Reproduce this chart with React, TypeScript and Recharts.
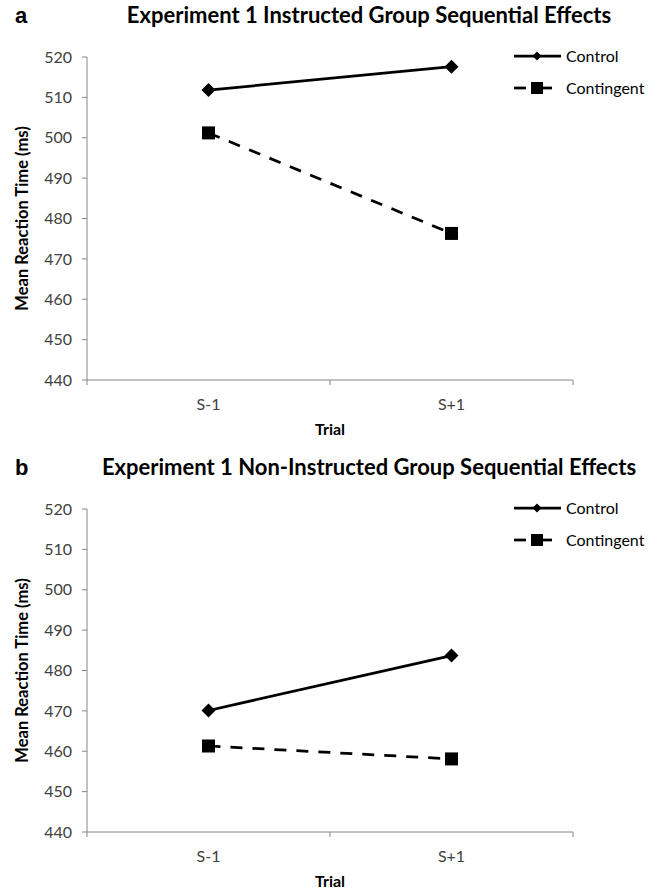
import React from "react";
import { LineChart, Line, XAxis, YAxis, Legend } from "recharts";

const categories = ["S-1", "S+1"];
const seriesNames = ["Control", "Contingent"];
const instructedControl = [511.8, 517.6];
const instructedContingent = [501.2, 476.3];
const nonInstructedControl = [470.1, 483.7];
const nonInstructedContingent = [461.3, 458.1];
const yTicks = [440, 450, 460, 470, 480, 490, 500, 510, 520];
const panelTitles = [
  "Experiment 1 Instructed Group Sequential Effects",
  "Experiment 1 Non-Instructed Group Sequential Effects",
];
const panelLetters = ["a", "b"];
const yAxisTitle = "Mean Reaction Time (ms)";
const xAxisTitle = "Trial";

const AXIS = "#868686";
const TICK_TEXT = "#404040";
const FONT = "Lato, 'Open Sans', sans-serif";

const xTicks: number[] = [];
categories.forEach((_, i) => {
  xTicks.push(i);
  xTicks.push(i + 0.5);
});
xTicks.push(categories.length);

function XTick(props: any) {
  const { x, y, payload } = props;
  const v = payload.value as number;
  if (Number.isInteger(v)) {
    return <line x1={x} x2={x} y1={y} y2={y + 5} stroke={AXIS} strokeWidth={1} />;
  }
  return (
    <text
      x={x}
      y={y + 23}
      textAnchor="middle"
      dominantBaseline="central"
      fontFamily={FONT}
      fontSize={16}
      fill={TICK_TEXT}
    >
      {categories[Math.floor(v)]}
    </text>
  );
}

function renderDiamond(p: any) {
  const { cx, cy, index } = p;
  if (cx == null || cy == null) return <g key={index} />;
  const r = 7;
  return (
    <polygon
      key={index}
      points={`${cx},${cy - r} ${cx + r},${cy} ${cx},${cy + r} ${cx - r},${cy}`}
      fill="#000"
    />
  );
}

function renderSquare(p: any) {
  const { cx, cy, index } = p;
  if (cx == null || cy == null) return <g key={index} />;
  const s = 13;
  return <rect key={index} x={cx - s / 2} y={cy - s / 2} width={s} height={s} fill="#000" />;
}

function LegendContent() {
  return (
    <div style={{ fontFamily: FONT, fontSize: 16, color: "#000" }}>
      {seriesNames.map((n, i) => (
        <div key={n} style={{ display: "flex", alignItems: "center", height: 32 }}>
          <svg width={48} height={16} style={{ display: "block" }}>
            {i === 0 ? (
              <g>
                <line x1={0} x2={47} y1={8} y2={8} stroke="#000" strokeWidth={2.75} />
                <polygon points="23,3.5 27.5,8 23,12.5 18.5,8" fill="#000" />
              </g>
            ) : (
              <g>
                <line x1={0} x2={12} y1={8} y2={8} stroke="#000" strokeWidth={2.75} />
                <rect x={17} y={2} width={12} height={12} fill="#000" />
                <line x1={29} x2={38} y1={8} y2={8} stroke="#000" strokeWidth={2.75} />
              </g>
            )}
          </svg>
          <span style={{ marginLeft: 4, lineHeight: "16px" }}>{n}</span>
        </div>
      ))}
    </div>
  );
}

function YLabel(props: any) {
  const vb = props.viewBox || { x: 0, y: 0, width: 0, height: 0 };
  const cx = vb.x + 22;
  const cy = vb.y + vb.height / 2;
  return (
    <text
      x={cx}
      y={cy}
      transform={`rotate(-90 ${cx} ${cy})`}
      textAnchor="middle"
      dominantBaseline="central"
      fontFamily={FONT}
      fontSize={16.5}
      fontWeight={700}
      fill="#000"
    >
      {yAxisTitle}
    </text>
  );
}

function XLabel(props: any) {
  const vb = props.viewBox || { x: 0, y: 0, width: 0, height: 0 };
  return (
    <text
      x={vb.x + vb.width / 2}
      y={vb.y + 48}
      textAnchor="middle"
      dominantBaseline="central"
      fontFamily={FONT}
      fontSize={16}
      fontWeight={700}
      fill="#000"
    >
      {xAxisTitle}
    </text>
  );
}

type PanelProps = {
  top: number;
  title: string;
  letter: string;
  control: number[];
  contingent: number[];
};

function Panel({ top, title, letter, control, contingent }: PanelProps) {
  const data = categories.map((c, i) => ({
    pos: i + 0.5,
    trial: c,
    control: control[i],
    contingent: contingent[i],
  }));
  return (
    <div style={{ position: "absolute", left: 0, top, width: 660, height: 438 }}>
      <LineChart
        width={660}
        height={438}
        data={data}
        margin={{ top: 57, right: 87, bottom: 8, left: 0 }}
      >
        <XAxis
          dataKey="pos"
          type="number"
          domain={[0, categories.length]}
          ticks={xTicks}
          interval={0}
          tick={<XTick />}
          tickLine={false}
          tickSize={0}
          tickMargin={0}
          axisLine={{ stroke: AXIS, strokeWidth: 1 }}
          height={50}
          label={{ content: <XLabel /> }}
        />
        <YAxis
          type="number"
          domain={[440, 520]}
          ticks={yTicks}
          interval={0}
          width={87}
          tickSize={5}
          tickMargin={10}
          tick={{ fontFamily: FONT, fontSize: 16, fill: TICK_TEXT }}
          tickLine={{ stroke: AXIS, strokeWidth: 1 }}
          axisLine={{ stroke: AXIS, strokeWidth: 1 }}
          label={{ content: <YLabel /> }}
        />
        <Legend
          layout="vertical"
          align="center"
          verticalAlign="middle"
          content={<LegendContent />}
          wrapperStyle={{ top: 40, left: 514, width: 146, height: 64 }}
        />
        <Line
          dataKey="control"
          name={seriesNames[0]}
          stroke="#000"
          strokeWidth={2.75}
          dot={renderDiamond}
          activeDot={false}
          isAnimationActive={false}
        />
        <Line
          dataKey="contingent"
          name={seriesNames[1]}
          stroke="#000"
          strokeWidth={2.75}
          strokeDasharray="12 10"
          dot={renderSquare}
          activeDot={false}
          isAnimationActive={false}
        />
      </LineChart>
      <div
        style={{
          position: "absolute",
          left: 0,
          top: 2,
          width: 738,
          textAlign: "center",
          fontFamily: FONT,
          fontSize: 22,
          fontWeight: 700,
          lineHeight: "26px",
          whiteSpace: "nowrap",
          color: "#000",
        }}
      >
        {title}
      </div>
      <div
        style={{
          position: "absolute",
          left: 15,
          top: 4,
          fontFamily: "'Liberation Sans', Arial, sans-serif",
          fontSize: 22,
          fontWeight: 700,
          lineHeight: "24px",
          color: "#000",
        }}
      >
        {letter}
      </div>
    </div>
  );
}

export default function App() {
  return (
    <div
      style={{
        position: "absolute",
        left: 0,
        top: 0,
        width: 660,
        height: 890,
        background: "#fff",
        overflow: "hidden",
      }}
    >
      <Panel
        top={0}
        title={panelTitles[0]}
        letter={panelLetters[0]}
        control={instructedControl}
        contingent={instructedContingent}
      />
      <Panel
        top={452}
        title={panelTitles[1]}
        letter={panelLetters[1]}
        control={nonInstructedControl}
        contingent={nonInstructedContingent}
      />
    </div>
  );
}
